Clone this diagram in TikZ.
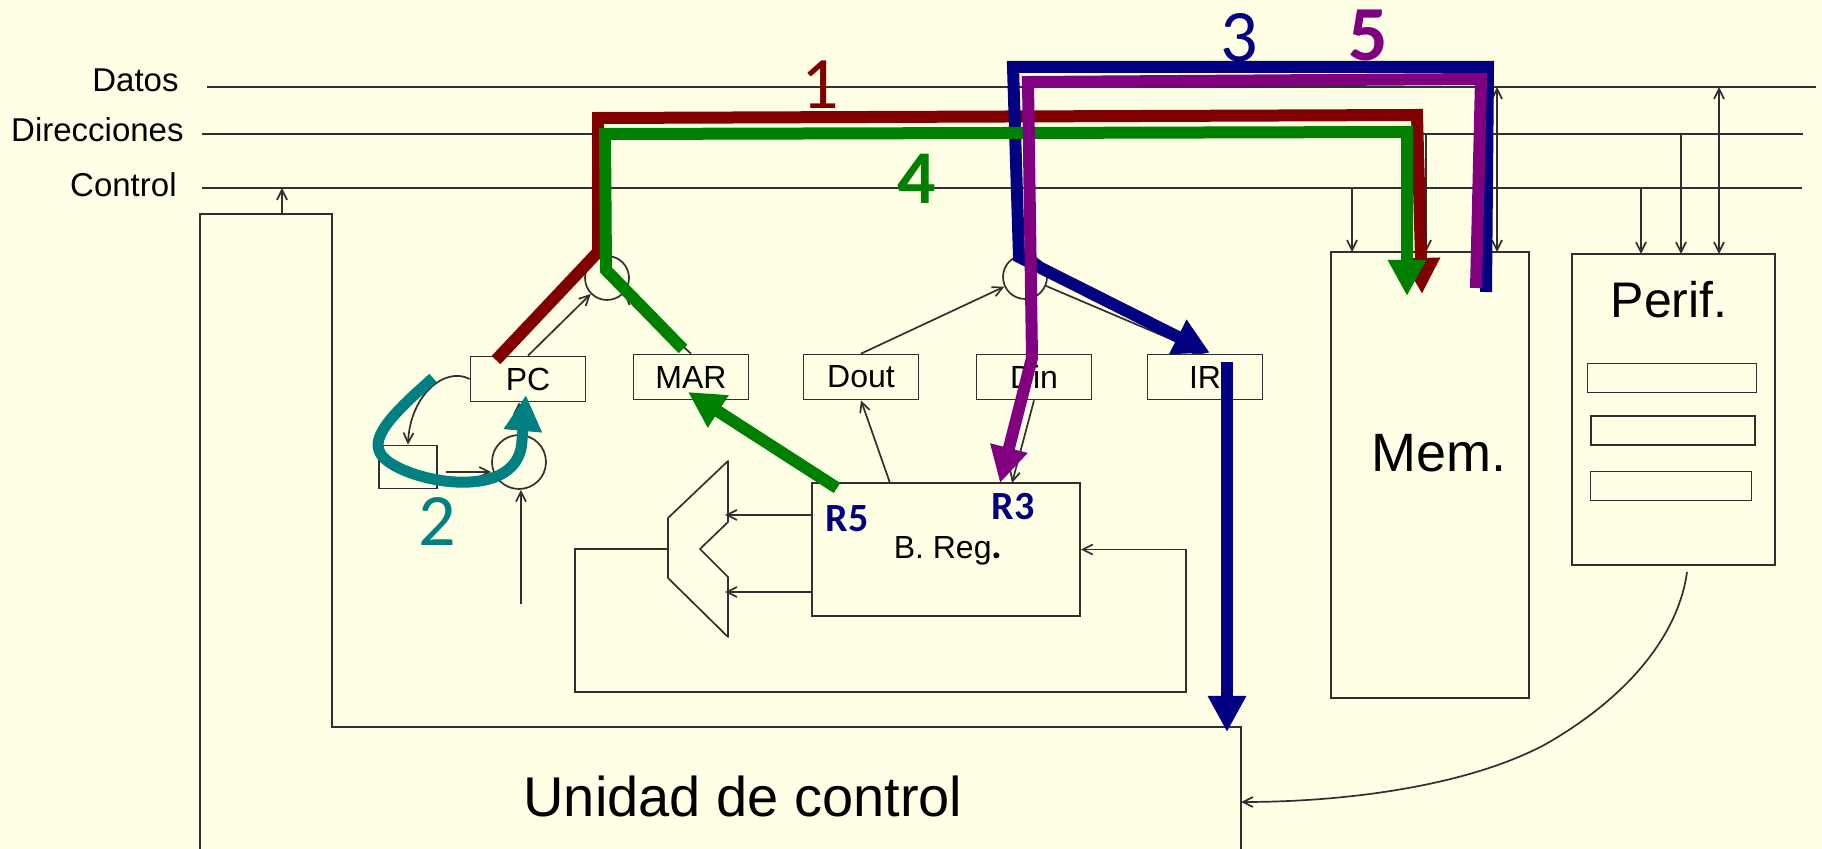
\documentclass[tikz,border=0pt]{standalone}
\usepackage{fontspec}
\setsansfont{Liberation Sans}
\newfontfamily\notefont{Carlito}
\usepackage{xcolor}
\usetikzlibrary{arrows.meta,positioning}
\definecolor{paper}{HTML}{FFFFE5}
\definecolor{wirecol}{HTML}{303030}
\definecolor{stepred}{HTML}{800000}
\definecolor{stepteal}{HTML}{008080}
\definecolor{stepnavy}{HTML}{000080}
\definecolor{stepgreen}{HTML}{008000}
\definecolor{steppurple}{HTML}{800080}

\begin{document}
\begin{tikzpicture}[
    x=0.5pt, y=-0.5pt,
    font=\sffamily,
    >={Straight Barb[length=5pt,width=5pt]},
    % Define styles for the blocks
    wire/.style={draw=wirecol, line width=0.85pt},
    reg/.style={rectangle, draw=wirecol, line width=0.85pt, minimum width=57.5pt, minimum height=22.5pt, inner sep=0pt, font=\sffamily\fontsize{16}{18}\selectfont},
    box/.style={rectangle, draw=wirecol, line width=0.85pt, inner sep=0pt},
    bus/.style={circle, draw=wirecol, line width=0.85pt, inner sep=0pt},
    buslabel/.style={font=\sffamily\fontsize{16.5}{18}\selectfont, inner sep=0pt},
    biglabel/.style={font=\sffamily\fontsize{27}{30}\selectfont, inner sep=0pt},
    regnote/.style={font=\notefont\bfseries\fontsize{20}{22}\selectfont, text=stepnavy, inner sep=0pt},
    stepnote/.style={font=\notefont\fontsize{37}{40}\selectfont, inner sep=0pt},
    steppath/.style={line width=6pt, line join=miter, -{Triangle[length=18pt,width=18pt]}}
]

\path[use as bounding box, fill=paper] (0,0) rectangle (1822,849);

% ==========================================
% Buses
% ==========================================
\coordinate (datosL) at (207,87);
\coordinate (datosR) at (1816,87);
\coordinate (dirL) at (202,134);
\coordinate (dirR) at (1803,134);
\coordinate (ctrlL) at (202,188);
\coordinate (ctrlR) at (1802,188);

\node[buslabel, anchor=east] (datos) at (179,80) {Datos};
\node[buslabel, anchor=east] (direcciones) at (184,130) {Direcciones};
\node[buslabel, anchor=east] (control) at (177,185) {Control};

\draw[wire] (datosL) -- (datosR);
\draw[wire] (dirL) -- (dirR);
\draw[wire] (ctrlL) -- (ctrlR);

% ==========================================
% Datapath
% ==========================================
\node[reg] (pc) at (528,379) {PC};
\node[reg] (mar) at (691,377) {MAR};
\node[reg] (dout) at (861,377) {Dout};
\node[reg] (din) at (1034,377) {Din};
\node[reg] (ir) at (1205,377) {IR};
\node[box, minimum width=29pt, minimum height=21.5pt] (small) at (408,467) {};
\node[bus, minimum size=27pt] (adder) at (519,462) {};
\node[bus, minimum size=22pt] (busa) at (607,278) {};
\node[bus, minimum size=22pt] (busb) at (1025,277) {};
\node[box, minimum width=134pt, minimum height=66.5pt] (breg) at (946,549.5) {};
\node[font=\sffamily\fontsize{16}{18}\selectfont, inner sep=0pt] (breglabel) at (948,551) {B. Reg{\notefont\bfseries\fontsize{20}{22}\selectfont .}};

\coordinate (addin) at (521,604);
\coordinate (smallout) at (446,472);
\coordinate (bregin) at (1012,483);
\coordinate (bregout) at (890,483);
\coordinate (muxa) at (725,515);
\coordinate (muxb) at (725,592);
\coordinate (muxout) at (668,549);
\coordinate (fbl) at (575,692);
\coordinate (fbr) at (1186,692);

\draw[wire, ->] (pc.north) -- (busa);
\draw[wire, ->] (mar.north) -- (busa);
\draw[wire, ->] (dout.north) -- (busb);
\draw[wire, ->] (busb) -- (ir.north);
\draw[wire, ->] (busb) -- (din.north);
\draw[wire, ->] (din.south) -- (bregin);
\draw[wire, ->] (bregout) -- (dout.south);
\draw[wire, ->] (addin) -- (addin |- adder.south);
\draw[wire, ->] (smallout) -- (smallout -| adder.west);
\draw[wire, ->] (adder.north) -- (adder.north |- pc.south);
\draw[wire, ->] (pc.west) .. controls (445,366) and (410,395) .. (small.north);

% Multiplexer
\draw[wire, line join=round] (728,461) -- (668,518) -- (668,578) -- (728,637) -- (728,577) -- (700,549) -- (728,522) -- cycle;
\draw[wire, ->] (muxa -| breg.west) -- (muxa);
\draw[wire, ->] (muxb -| breg.west) -- (muxb);
\draw[wire, ->] (muxout) -| (fbl) -- (fbr) |- (breg.east);

% ==========================================
% Control unit, memory and peripheral
% ==========================================
\coordinate (cuout) at (282,214);
\coordinate (cuin) at (1241,802);
\draw[wire] (200,849) -- (200,214) -- (332,214) -- (332,727) -- (1241,727) -- (1241,849);
\node[biglabel, font=\sffamily\fontsize{28}{30}\selectfont] (unidad) at (743,796) {Unidad de control};
\draw[wire, ->] (cuout) -- (cuout |- ctrlL);

\node[box, minimum width=99pt, minimum height=223pt] (mem) at (1430,475) {};
\node[biglabel] (memlabel) at (1439,453) {Mem.};
\node[box, minimum width=101.5pt, minimum height=155.5pt] (perif) at (1673.5,409.5) {};
\node[biglabel, font=\sffamily\fontsize{25}{28}\selectfont] (periflabel) at (1669,300) {Perif.};
\node[box, minimum width=84.5pt, minimum height=14.5pt] (slota) at (1672,378) {};
\node[box, minimum width=82pt, minimum height=14.5pt] (slotb) at (1673,430.6) {};
\node[box, minimum width=80.5pt, minimum height=14.5pt] (slotc) at (1671,486) {};

\coordinate (mema) at (1352,252);
\coordinate (memb) at (1426,252);
\coordinate (memc) at (1497,252);
\coordinate (perifa) at (1641,254);
\coordinate (perifb) at (1681,254);
\coordinate (perifc) at (1719,254);
\coordinate (perifout) at (1687,572);
\coordinate (curvemid) at (1546,744);

\draw[wire, ->] (ctrlL -| mema) -- (mema);
\draw[wire, ->] (dirL -| memb) -- (memb);
\draw[wire, <->] (datosL -| memc) -- (memc);
\draw[wire, ->] (ctrlL -| perifa) -- (perifa);
\draw[wire, ->] (dirL -| perifb) -- (perifb);
\draw[wire, <->] (datosL -| perifc) -- (perifc);
\draw[wire, ->] (perifout) .. controls (1680,625) and (1640,690) .. (curvemid) .. controls (1470,785) and (1350,802) .. (cuin);

% ==========================================
% Numbered steps drawn over the datapath
% ==========================================
% Step 1
\coordinate (redA) at (496,360);
\coordinate (redB) at (598,252);
\coordinate (redC) at (598,118);
\coordinate (redD) at (1417,115);
\coordinate (redE) at (1422,294);
\draw[steppath, draw=stepred] (redA) -- (redB) -- (redC) -- (redD) -- (redE);

% Step 3
\coordinate (navyA) at (1486,292);
\coordinate (navyB) at (1488,67);
\coordinate (navyC) at (1013,67);
\coordinate (navyD) at (1019,257);
\coordinate (navyE) at (1210,353);
\draw[steppath, draw=stepnavy] (navyA) -- (navyB) -- (navyC) -- (navyD) -- (navyE);
\coordinate (navyF) at (1227,362);
\coordinate (navyG) at (1227,732);
\draw[steppath, draw=stepnavy] (navyF) -- (navyG);

% Step 4
\coordinate (greenA) at (683,349);
\coordinate (greenB) at (606,270);
\coordinate (greenC) at (605,134);
\coordinate (greenD) at (1407,132);
\coordinate (greenE) at (1407,296);
\draw[steppath, draw=stepgreen] (greenA) -- (greenB) -- (greenC) -- (greenD) -- (greenE);
\coordinate (greenF) at (837,488);
\coordinate (greenG) at (688,392);
\draw[steppath, draw=stepgreen] (greenF) -- (greenG);

% Step 5
\coordinate (purpleA) at (1476,288);
\coordinate (purpleB) at (1481,79);
\coordinate (purpleC) at (1028,82);
\coordinate (purpleD) at (1032,358);
\coordinate (purpleE) at (1000,483);
\draw[steppath, draw=steppurple] (purpleA) -- (purpleB) -- (purpleC) -- (purpleD) -- (purpleE);

% Step 2
\coordinate (tealA) at (433,378);
\coordinate (tealB) at (379,450);
\coordinate (tealC) at (526,395);
\draw[steppath, draw=stepteal, line width=5.5pt] (tealA) .. controls (405,403) and (372,432) .. (tealB) .. controls (385,478) and (520,510) .. (522,440) -- (tealC);

\node[stepnote, text=stepred] (one) at (820,85) {1};
\node[stepnote, text=stepteal] (two) at (437,521) {2};
\node[stepnote, text=stepnavy] (three) at (1239,38) {3};
\node[stepnote, text=stepgreen, font=\notefont\bfseries\fontsize{38}{40}\selectfont] (four) at (917,179) {4};
\node[stepnote, text=steppurple, font=\notefont\bfseries\fontsize{39}{40}\selectfont] (five) at (1368,35) {5};
\node[regnote] (rfive) at (847,519) {R5};
\node[regnote] (rthree) at (1013,507) {R3};

\end{tikzpicture}
\end{document}
